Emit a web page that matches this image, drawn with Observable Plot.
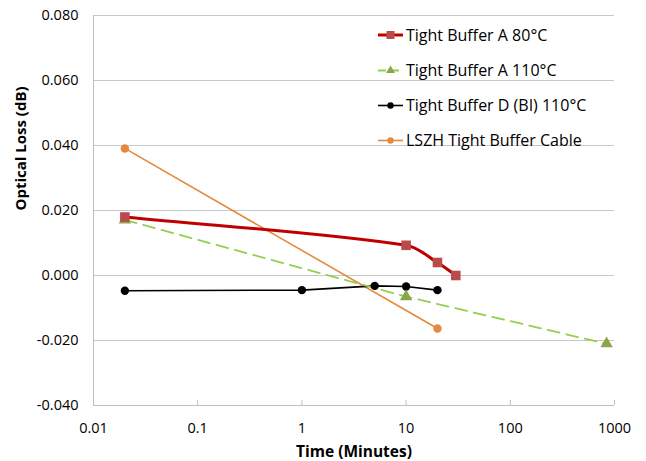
<!DOCTYPE html>
<html><head><meta charset="utf-8">
<script src="https://cdn.jsdelivr.net/npm/d3@7"></script>
<script src="https://cdn.jsdelivr.net/npm/@observablehq/plot@0.6"></script>
<style>body{margin:0;background:#fff;} #chart svg{display:block;}</style>
</head><body><div id="chart"></div>
<script>
// ---- data ----
const seriesNames = ["Tight Buffer A 80°C", "Tight Buffer A 110°C", "Tight Buffer D (BI) 110°C", "LSZH Tight Buffer Cable"];
const redX = [0.02, 10, 20, 30];
const redY = [0.0180, 0.0093, 0.0040, 0.0000];
const greenX = [0.02, 10, 840];
const greenY = [0.0171, -0.0065, -0.0210];
const blackX = [0.02, 1, 5, 10, 20];
const blackY = [-0.0047, -0.0045, -0.0032, -0.0034, -0.0045];
const orangeX = [0.02, 20];
const orangeY = [0.0391, -0.0163];
const xTicks = [0.01, 0.1, 1, 10, 100, 1000];
const xTickLabels = ["0.01", "0.1", "1", "10", "100", "1000"];
const yTicks = [-0.04, -0.02, 0, 0.02, 0.04, 0.06, 0.08];
const yTickLabels = ["-0.040", "-0.020", "0.000", "0.020", "0.040", "0.060", "0.080"];
const xTitle = "Time (Minutes)";
const yTitle = "Optical Loss (dB)";

const toRows = (xs, ys) => xs.map((x, i) => ({x, y: ys[i]}));
const red = toRows(redX, redY), green = toRows(greenX, greenY), black = toRows(blackX, blackY), orange = toRows(orangeX, orangeY);

const C = {red: "#c00000", redM: "#b94c4a", green: "#92d050", greenM: "#8aa64a", black: "#000000", orange: "#e48a3c"};
const font = "'Open Sans', 'Noto Sans', sans-serif";

// Spreadsheet-style smoothed line: Bezier with tangents from neighbours, handle length = 1/3 of segment
function smoothCurve(context) {
  let pts;
  return {
    areaStart() {}, areaEnd() {},
    lineStart() { pts = []; },
    point(x, y) { pts.push([+x, +y]); },
    lineEnd() {
      const n = pts.length;
      if (!n) return;
      context.moveTo(pts[0][0], pts[0][1]);
      const tan = pts.map((p, i) => {
        const a = pts[Math.max(0, i - 1)], b = pts[Math.min(n - 1, i + 1)];
        const dx = b[0] - a[0], dy = b[1] - a[1], L = Math.hypot(dx, dy) || 1;
        return [dx / L, dy / L];
      });
      for (let i = 1; i < n; i++) {
        const p0 = pts[i - 1], p1 = pts[i];
        const L = Math.hypot(p1[0] - p0[0], p1[1] - p0[1]) / 3;
        context.bezierCurveTo(p0[0] + tan[i - 1][0] * L, p0[1] + tan[i - 1][1] * L,
                              p1[0] - tan[i][0] * L, p1[1] - tan[i][1] * L, p1[0], p1[1]);
      }
    }
  };
}

const chart = Plot.plot({
  width: 646, height: 461,
  marginLeft: 93, marginRight: 32, marginTop: 15, marginBottom: 56,
  style: {fontFamily: font, fontSize: "14.5px", color: "#000", background: "#fff"},
  x: {type: "log", domain: [0.01, 1000]},
  y: {domain: [-0.04, 0.08]},
  marks: [
    Plot.gridY(yTicks.slice(1), {stroke: "#c8c8c8", strokeOpacity: 1}),
    Plot.ruleX([0.01], {stroke: "#bfbfbf"}),
    Plot.ruleY([-0.04], {stroke: "#bfbfbf"}),
    Plot.axisY(yTicks, {tickSize: 0, tickPadding: 15, tickFormat: d => yTickLabels[yTicks.indexOf(d)], label: null, fill: "#000"}),
    Plot.axisX(xTicks, {tickSize: 5, dy: -5, tickPadding: 17, tickFormat: d => xTickLabels[xTicks.indexOf(d)], label: null, stroke: "#bfbfbf", fill: "#000"}),
    Plot.line(orange, {x: "x", y: "y", stroke: C.orange, strokeWidth: 1.6}),
    Plot.line(black, {x: "x", y: "y", stroke: C.black, strokeWidth: 1.6}),
    Plot.line(green, {x: "x", y: "y", stroke: C.green, strokeWidth: 1.8, strokeDasharray: "12,7"}),
    Plot.line(red, {x: "x", y: "y", stroke: C.red, strokeWidth: 3, curve: smoothCurve}),
    Plot.dot(orange, {x: "x", y: "y", r: 4.2, fill: C.orange}),
    Plot.dot(black, {x: "x", y: "y", r: 4.2, fill: C.black}),
    Plot.dot(green, {x: "x", y: "y", r: 4.6, symbol: "triangle", fill: C.greenM}),
    Plot.dot(red, {x: "x", y: "y", r: 5.4, symbol: "square", fill: C.redM}),
    Plot.text([yTitle], {frameAnchor: "left", dx: -72, rotate: -90, fontWeight: "bold", fontSize: 15, fill: "#000"}),
    Plot.text([xTitle], {frameAnchor: "bottom", dy: 51, fontWeight: "bold", fontSize: 15.5, fill: "#000"})
  ]
});
document.getElementById("chart").appendChild(chart);

// legend (inside plot area, top right)
const svg = d3.select(chart);
const lg = svg.append("g").attr("font-family", font).attr("font-size", 16).attr("text-anchor", "start");
const rowsY = [35, 70.5, 105.5, 140.5];
const styles = [
  {stroke: C.red, w: 3, dash: null, sym: "square", fill: C.redM},
  {stroke: C.green, w: 1.8, dash: "8,5", sym: "triangle", fill: C.greenM},
  {stroke: C.black, w: 1.6, dash: null, sym: "circle", fill: C.black},
  {stroke: C.orange, w: 1.6, dash: null, sym: "circle", fill: C.orange}
];
seriesNames.forEach((name, i) => {
  const y = rowsY[i], s = styles[i];
  const g = lg.append("g");
  g.append("line").attr("x1", 378).attr("x2", 403).attr("y1", y).attr("y2", y)
    .attr("stroke", s.stroke).attr("stroke-width", s.w).attr("stroke-dasharray", s.dash);
  const sz = s.sym === "square" ? 64 : s.sym === "triangle" ? 34 : 32;
  const sym = {square: d3.symbolSquare, triangle: d3.symbolTriangle, circle: d3.symbolCircle}[s.sym];
  g.append("path").attr("d", d3.symbol(sym, sz)()).attr("transform", `translate(390.5,${y})`).attr("fill", s.fill);
  g.append("text").attr("x", 406).attr("y", y).attr("dy", "0.36em").attr("fill", "#000").attr("text-anchor", "start").text(name);
});
</script>
</body></html>
